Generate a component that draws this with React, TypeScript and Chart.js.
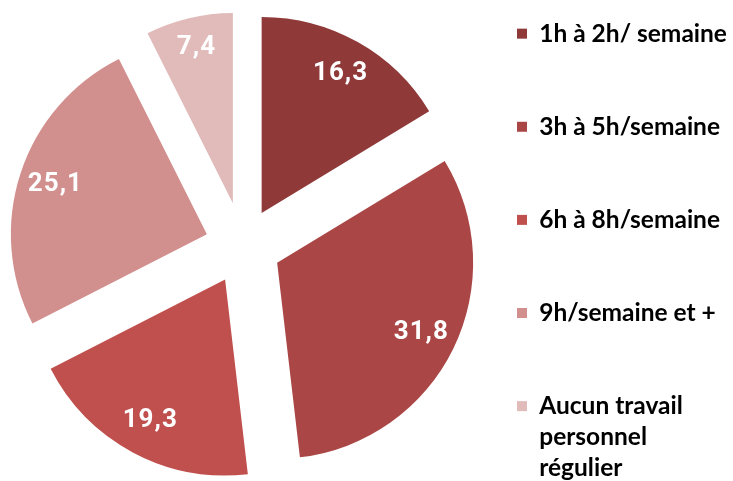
import React, { useEffect, useRef } from 'react';
import { Chart, registerables } from 'chart.js';

Chart.register(...registerables);

const categories = [
  '1h à 2h/ semaine',
  '3h à 5h/semaine',
  '6h à 8h/semaine',
  '9h/semaine et +',
  'Aucun travail personnel régulier',
];
const legendLines = [
  ['1h à 2h/ semaine'],
  ['3h à 5h/semaine'],
  ['6h à 8h/semaine'],
  ['9h/semaine et +'],
  ['Aucun travail', 'personnel', 'régulier'],
];
const values = [16.3, 31.8, 19.3, 25.1, 7.4];
const colors = ['#8F3A39', '#AA4746', '#C0504D', '#D18F8E', '#E1BABA'];
const explode = [38, 38, 38, 38, 44];
const radiusScale = [1, 1, 1, 1, 0.97];

const formatValue = (v: number) => v.toFixed(1).replace('.', ',');

const explodePlugin = {
  id: 'explodeSlices',
  afterDatasetsUpdate(chart: any) {
    const meta = chart.getDatasetMeta(0);
    meta.data.forEach((arc: any, i: number) => {
      const mid = (arc.startAngle + arc.endAngle) / 2;
      arc.x += Math.cos(mid) * explode[i];
      arc.y += Math.sin(mid) * explode[i];
      arc.outerRadius = arc.outerRadius * radiusScale[i];
    });
  },
  afterDatasetsDraw(chart: any) {
    const meta = chart.getDatasetMeta(0);
    const ctx = chart.ctx;
    const base = (meta.controller as any).outerRadius;
    ctx.save();
    ctx.fillStyle = '#FFFFFF';
    ctx.font = 'bold 26px Roboto';
    try {
      (ctx as any).letterSpacing = '1px';
    } catch (e) {}
    ctx.textAlign = 'center';
    ctx.textBaseline = 'middle';
    meta.data.forEach((arc: any, i: number) => {
      const mid = (arc.startAngle + arc.endAngle) / 2;
      const d = base * 0.816;
      ctx.fillText(formatValue(values[i]), arc.x + Math.cos(mid) * d + 0.5, arc.y + Math.sin(mid) * d);
    });
    ctx.restore();
  },
};

export default function App() {
  const ref = useRef<HTMLCanvasElement | null>(null);

  useEffect(() => {
    if (!ref.current) return;
    const chart = new Chart(ref.current, {
      type: 'pie',
      data: {
        labels: categories,
        datasets: [
          {
            data: values,
            backgroundColor: colors,
            borderWidth: 0,
            radius: 196,
          } as any,
        ],
      },
      options: {
        responsive: false,
        animation: false,
        layout: { padding: { left: 0, top: 0, bottom: 0, right: 17 } },
        plugins: {
          tooltip: { enabled: false },
          legend: {
            position: 'right',
            align: 'end',
            maxWidth: 215,
            labels: {
              boxWidth: 10,
              boxHeight: 10,
              padding: 0,
              color: '#000000',
              font: { family: 'Lato', size: 24.5, weight: 'bold', lineHeight: '31.04px' } as any,
              generateLabels: () =>
                categories.map((c, i) => {
                  const lines = [...legendLines[i]];
                  while (lines.length < 3) lines.push('');
                  return {
                    text: lines as any,
                    fillStyle: colors[i],
                    strokeStyle: colors[i],
                    lineWidth: 0,
                    hidden: false,
                    index: i,
                    fontColor: '#000000',
                  } as any;
                }),
            },
          },
        },
      },
      plugins: [explodePlugin],
    });
    return () => chart.destroy();
  }, []);

  return (
    <div style={{ position: 'fixed', left: 0, top: 0, width: 733, height: 481, overflow: 'hidden', background: '#fff' }}>
      <canvas
        ref={ref}
        width={780}
        height={482}
        style={{ position: 'absolute', left: -31, top: 5, width: 780, height: 482 }}
      />
    </div>
  );
}
